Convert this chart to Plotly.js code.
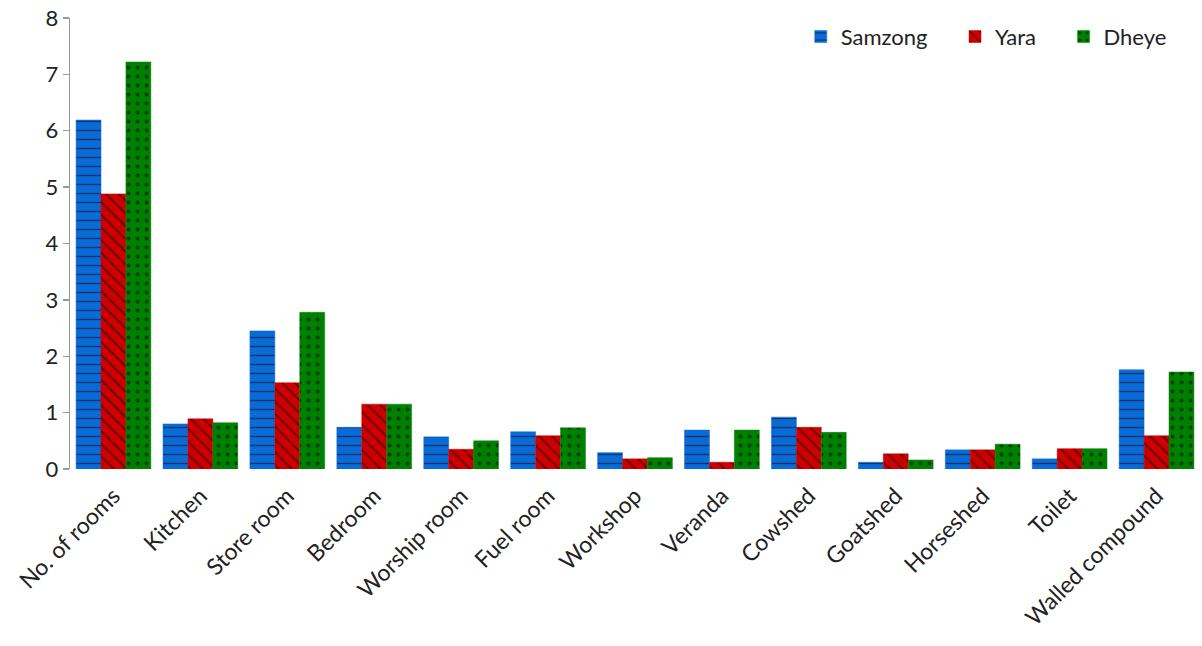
<!DOCTYPE html>
<html>
<head>
<meta charset="utf-8">
<script src="https://cdn.plot.ly/plotly-3.0.1.min.js"></script>
<style>html,body{margin:0;padding:0;background:#fff;}#chart{width:1202px;height:646px;}</style>
</head>
<body>
<div id="chart"></div>
<script>
// Average number of rooms and household structures per village
const categories = ["No. of rooms", "Kitchen", "Store room", "Bedroom", "Worship room", "Fuel room",
  "Workshop", "Veranda", "Cowshed", "Goatshed", "Horseshed", "Toilet", "Walled compound"];
const samzong = [6.19, 0.80, 2.45, 0.74, 0.57, 0.66, 0.29, 0.69, 0.92, 0.12, 0.34, 0.18, 1.76];
const yara    = [4.88, 0.89, 1.53, 1.15, 0.35, 0.59, 0.18, 0.12, 0.74, 0.27, 0.34, 0.36, 0.59];
const dheye   = [7.22, 0.82, 2.78, 1.15, 0.50, 0.73, 0.20, 0.69, 0.65, 0.16, 0.44, 0.36, 1.72];
const yTicks = [0, 1, 2, 3, 4, 5, 6, 7, 8];

// trailing no-break spaces widen the gap between horizontal legend entries
const PAD = "\u00a0\u00a0\u00a0\u00a0";

function series(name, values, color, shape, solidity) {
  return {
    type: "bar", name: name, x: categories, y: values,
    marker: {
      color: color,
      line: {color: color, width: 0.5},
      pattern: {shape: shape, fgcolor: "#000000", bgcolor: color, size: 9, solidity: solidity, fillmode: "overlay"}
    }
  };
}

const data = [
  series("Samzong" + PAD, samzong, "#0a6ad6", "-", 0.15),
  series("Yara" + PAD, yara, "#cc0000", "\\", 0.18),
  series("Dheye", dheye, "#008000", ".", 0.15)
];

const font = {family: "Lato, 'Open Sans', sans-serif", size: 22, color: "#222"};

const layout = {
  width: 1202, height: 646,
  margin: {l: 70, r: 2, t: 18, b: 177},
  paper_bgcolor: "#fff", plot_bgcolor: "#fff",
  font: font,
  barmode: "group", bargap: 0.14, bargroupgap: 0,
  showlegend: true,
  legend: {orientation: "h", x: 0.975, xanchor: "right", y: 1.005, yanchor: "top",
    font: {family: font.family, size: 22, color: "#222"}, itemwidth: 30, traceorder: "normal"},
  xaxis: {
    type: "category", tickangle: -45, showline: false, ticks: "", showgrid: false,
    ticklabelstandoff: 8,
    tickfont: {family: font.family, size: 23, color: "#222"}, automargin: false
  },
  yaxis: {
    range: [0, 8], tickvals: yTicks, showgrid: false, zeroline: false,
    showline: true, linecolor: "#999", linewidth: 1.3,
    ticks: "outside", ticklen: 6, tickcolor: "#999", tickwidth: 1.3,
    tickfont: {family: font.family, size: 22, color: "#222"}, automargin: false
  }
};

Plotly.newPlot("chart", data, layout, {displayModeBar: false, staticPlot: true});
</script>
</body>
</html>
